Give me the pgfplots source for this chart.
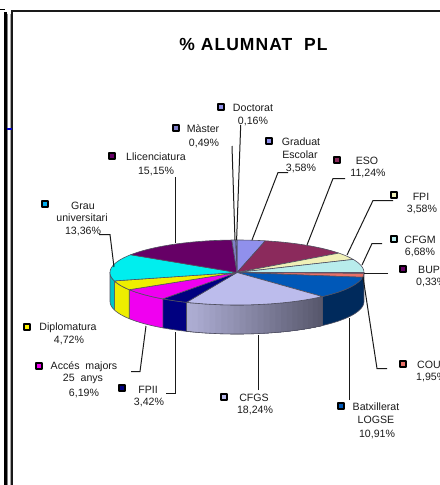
\documentclass[border=0pt]{standalone}
\usepackage{fontspec}
\setmainfont{Liberation Sans}
\usepackage{pgfplots}
\pgfplotsset{compat=1.18}
\definecolor{tDoc}{HTML}{9090E8}\definecolor{tMas}{HTML}{8080C8}\definecolor{tLli}{HTML}{660066}
\definecolor{tGra}{HTML}{00EEEE}\definecolor{tGrd}{HTML}{9090EC}\definecolor{tEso}{HTML}{8B2A5C}
\definecolor{tFpi}{HTML}{F0F0B8}\definecolor{tCfm}{HTML}{B8ECEC}\definecolor{tBup}{HTML}{702060}
\definecolor{tCou}{HTML}{E87068}\definecolor{tBat}{HTML}{0058B8}\definecolor{tCfs}{HTML}{BCBCEC}
\definecolor{tFp2}{HTML}{000080}\definecolor{tAcc}{HTML}{F000F0}\definecolor{tDip}{HTML}{EEEE00}
\definecolor{wBat}{HTML}{002A5C}\definecolor{wGra}{HTML}{00C4C8}
\definecolor{rim}{HTML}{505060}\definecolor{ink}{HTML}{1A1A1A}
\definecolor{gradL}{HTML}{ACACD2}\definecolor{gradR}{HTML}{545468}
\newcommand{\wallpts}[2]{%
  \xdef\pts{}%
  \pgfmathtruncatemacro\nn{max(1,ceil((#2-#1)*3.6/3))}%
  \foreach \i in {0,...,\nn}{%
    \pgfmathsetmacro\th{(#1+(#2-#1)*\i/\nn)*3.6}%
    \pgfmathsetmacro\px{237+127*sin(\th)}%
    \pgfmathsetmacro\py{272.5-32.5*cos(\th)}%
    \xdef\pts{\pts (\px,\py)}%
  }%
  \foreach \i in {\nn,...,0}{%
    \pgfmathsetmacro\th{(#1+(#2-#1)*\i/\nn)*3.6}%
    \pgfmathsetmacro\px{237+127*sin(\th)}%
    \pgfmathsetmacro\py{301.5-32.5*cos(\th)}%
    \xdef\pts{\pts (\px,\py)}%
  }%
}
\newcommand{\wall}[3]{%
  \wallpts{#1}{#2}%
  \edef\doit{\noexpand\addplot[fill=#3,draw=rim,line width=0.6bp,line join=round] coordinates {\pts} -- cycle;}\doit}
\newcommand{\topslice}[3]{%
  \xdef\pts{(237,272.5)}%
  \pgfmathtruncatemacro\nn{max(1,ceil((#2-#1)*3.6/3))}%
  \foreach \i in {0,...,\nn}{%
    \pgfmathsetmacro\th{(#1+(#2-#1)*\i/\nn)*3.6}%
    \pgfmathsetmacro\px{237+127*sin(\th)}%
    \pgfmathsetmacro\py{272.5-32.5*cos(\th)}%
    \xdef\pts{\pts (\px,\py)}%
  }%
  \edef\doit{\noexpand\addplot[fill=#3,draw=rim,line width=0.6bp,line join=round] coordinates {\pts} -- cycle;}\doit}
\newcommand{\leader}[1]{\addplot[draw=ink,line width=1bp] coordinates {#1};}
\newcommand{\key}[3]{\addplot[only marks,mark=square*,mark size=2.8bp,
  mark options={draw=black,fill=#3,line width=2.4bp,line join=round}] coordinates {(#1,#2)};}
\newcommand{\lab}[3]{\node[text=ink,anchor=center,inner sep=0pt,font=\fontsize{10.6bp}{12bp}\selectfont] at (axis cs:#1,#2) {#3};}
\newcommand{\labl}[3]{\node[text=ink,anchor=west,inner sep=0pt,font=\fontsize{10.6bp}{12bp}\selectfont] at (axis cs:#1,#2) {#3};}
\begin{document}
\begin{tikzpicture}
\path[use as bounding box,clip] (0,0) rectangle (440bp,485bp);
\begin{axis}[at={(0,0)},anchor=south west,scale only axis,width=440bp,height=485bp,
  xmin=0,xmax=440,ymin=0,ymax=485,y dir=reverse,hide axis,clip=false]
% frame
\addplot[draw=black,line width=3.4bp] coordinates {(5.6,12) (5.6,485)};
\addplot[draw=gray,line width=1bp] coordinates {(7.8,14) (7.8,485)};
\addplot[draw=black,line width=1bp] coordinates {(0,10) (5,10)};
\addplot[draw=gray!70,line width=1bp] coordinates {(10.6,485) (10.6,14)};
\addplot[draw=ink,line width=1.1bp] coordinates {(12,485) (12,11) (440,11)};
\addplot[draw={rgb,255:red,0;green,0;blue,200},line width=2bp] coordinates {(7,129) (12,129)};
% walls
\wall{25.08}{38.27}{wBat}
\wallpts{38.27}{56.51}
\edef\doit{\noexpand\addplot[fill=gradL,draw=rim,line width=0.6bp] coordinates {\pts} -- cycle;}\doit
% gradient pieces: each piece overlaps the next one, drawn from the light end to the dark
\pgfplotsinvokeforeach{0,...,23}{%
  \pgfmathsetmacro\aa{56.51-18.24*(#1+1)/24}%
  \pgfmathsetmacro\cx{237+127*sin((\aa+0.38)*3.6)}%
  \pgfmathsetmacro\pc{100*(\cx-187)/135}%
  \xglobal\colorlet{grad#1}{gradR!\pc!gradL}%
  \wallpts{38.27}{\aa}%
  \edef\doit{\noexpand\addplot[fill=grad#1,draw=none] coordinates {\pts} -- cycle;}\doit
}
\wallpts{38.27}{56.51}
\edef\doit{\noexpand\addplot[draw=rim,line width=0.6bp] coordinates {\pts} -- cycle;}\doit
\wall{56.51}{59.93}{tFp2}
\wall{59.93}{66.12}{tAcc}
\wall{66.12}{70.84}{tDip}
\wall{70.84}{75}{wGra}
% tops
\topslice{0}{3.58}{tGrd}
\topslice{3.58}{14.82}{tEso}
\topslice{14.82}{18.40}{tFpi}
\topslice{18.40}{25.08}{tCfm}
\topslice{25.08}{25.41}{tBup}
\topslice{25.41}{27.36}{tCou}
\topslice{27.36}{38.27}{tBat}
\topslice{38.27}{56.51}{tCfs}
\topslice{56.51}{59.93}{tFp2}
\topslice{59.93}{66.12}{tAcc}
\topslice{66.12}{70.84}{tDip}
\topslice{70.84}{84.20}{tGra}
\topslice{84.20}{99.35}{tLli}
\topslice{99.35}{99.84}{tMas}
\topslice{99.84}{100}{tDoc}
% leaders
\leader{(240.7,125) (236.6,240)}
\leader{(232,146) (235,240)}
\leader{(175.5,177) (175.5,243)}
\leader{(99,234.5) (110,234.5) (114,267)}
\leader{(288,172.5) (278,172.5) (252,240)}
\leader{(345,178.5) (333,178.5) (307,245)}
\leader{(393,200.5) (373,200.5) (347,255)}
\leader{(382,243.5) (372,243.5) (362,265)}
\leader{(388,273.5) (364,273.5)}
\leader{(387,368.5) (377,368.5) (363,277)}
\leader{(349.5,400) (349.5,318)}
\leader{(258.5,390) (258.5,335)}
\leader{(166,393.5) (175.5,393.5) (175.5,332)}
\leader{(131,371.5) (140,371.5) (146,326)}
% keys
\key{221}{107}{tDoc}
\key{176}{128}{tMas}
\key{112}{156}{tLli}
\key{45}{204}{cyan}
\key{269}{141}{tGrd}
\key{337}{160}{tEso}
\key{394}{195}{tFpi}
\key{394}{239}{tCfm}
\key{403}{269}{tLli}
\key{403}{364}{tCou}
\key{341}{406}{tBat}
\key{224}{397}{tCfs}
\key{122}{388}{tFp2}
\key{39}{366}{tAcc}
\key{27}{327}{yellow}
% labels
\node[anchor=center,inner sep=0pt,text=black,font=\fontsize{17.5bp}{20bp}\selectfont\bfseries\addfontfeature{LetterSpace=6}] at (axis cs:253.5,44) {\%\ ALUMNAT\ \ PL};
\lab{253}{108}{Doctorat}\lab{253}{121}{0,16\%}
\lab{203}{129}{Màster}\lab{204}{143}{0,49\%}
\lab{156}{157}{Llicenciatura}\lab{156}{171}{15,15\%}
\lab{83}{206}{Grau}\lab{82}{218}{universitari}\lab{83}{231}{13,36\%}
\lab{301}{142}{Graduat}\lab{300}{155}{Escolar}\lab{301}{168}{3,58\%}
\lab{367}{161}{ESO}\lab{368}{173}{11,24\%}
\lab{421}{197}{FPI}\lab{422}{209}{3,58\%}
\lab{420}{240}{CFGM}\lab{420}{252}{6,68\%}
\labl{418}{270}{BUP}\labl{416}{282}{0,33\%}
\labl{417}{365}{COU}\labl{416}{377}{1,95\%}
\lab{376}{407}{Batxillerat}\lab{376}{420}{LOGSE}\lab{377}{434}{10,91\%}
\lab{254}{398}{CFGS}\lab{255}{410}{18,24\%}
\lab{148}{390}{FPII}\lab{149}{402}{3,42\%}
\lab{84}{367}{Accés\ \ majors}\lab{83}{379}{25\ \ anys}\lab{84}{393}{6,19\%}
\lab{68}{328}{Diplomatura}\lab{69}{340}{4,72\%}
\end{axis}
\end{tikzpicture}
\end{document}
